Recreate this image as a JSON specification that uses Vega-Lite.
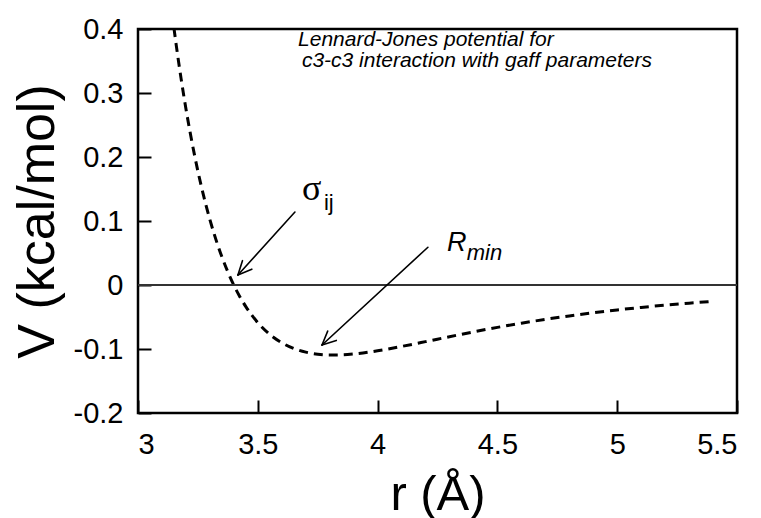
{
  "$schema": "https://vega.github.io/schema/vega-lite/v6.json",
  "width": 599,
  "height": 384,
  "autosize": "none",
  "padding": {"left": 138, "top": 29, "right": 24, "bottom": 105},
  "background": "white",
  "config": {
    "view": {"stroke": "black", "strokeWidth": 2.5},
    "font": "Liberation Sans",
    "axis": {
      "grid": false,
      "domain": false,
      "ticks": true,
      "tickColor": "black",
      "tickWidth": 2,
      "tickSize": -13,
      "labelFont": "Liberation Sans",
      "labelFontSize": 29,
      "labelColor": "black",
      "titleFont": "Liberation Sans",
      "titleFontWeight": "normal",
      "titleColor": "black"
    }
  },
  "layer": [
    {
      "data": {
        "values": [
          {"r": 3.15, "V": 0.4015},
          {"r": 3.16, "V": 0.3737},
          {"r": 3.17, "V": 0.3473},
          {"r": 3.18, "V": 0.3221},
          {"r": 3.2, "V": 0.2755},
          {"r": 3.22, "V": 0.2336},
          {"r": 3.25, "V": 0.1778},
          {"r": 3.275, "V": 0.1376},
          {"r": 3.3, "V": 0.1022},
          {"r": 3.325, "V": 0.0713},
          {"r": 3.35, "V": 0.0442},
          {"r": 3.375, "V": 0.0205},
          {"r": 3.4, "V": -0.0003},
          {"r": 3.425, "V": -0.0182},
          {"r": 3.45, "V": -0.0338},
          {"r": 3.5, "V": -0.0588},
          {"r": 3.55, "V": -0.0772},
          {"r": 3.6, "V": -0.0902},
          {"r": 3.65, "V": -0.0992},
          {"r": 3.7, "V": -0.1049},
          {"r": 3.75, "V": -0.1081},
          {"r": 3.8, "V": -0.1093},
          {"r": 3.85, "V": -0.1091},
          {"r": 3.9, "V": -0.1078},
          {"r": 4.0, "V": -0.1028},
          {"r": 4.1, "V": -0.096},
          {"r": 4.2, "V": -0.0885},
          {"r": 4.3, "V": -0.0808},
          {"r": 4.4, "V": -0.0733},
          {"r": 4.5, "V": -0.0662},
          {"r": 4.6, "V": -0.0597},
          {"r": 4.7, "V": -0.0537},
          {"r": 4.8, "V": -0.0483},
          {"r": 4.9, "V": -0.0434},
          {"r": 5.0, "V": -0.039},
          {"r": 5.1, "V": -0.035},
          {"r": 5.2, "V": -0.0315},
          {"r": 5.3, "V": -0.0284},
          {"r": 5.4, "V": -0.0256}
        ]
      },
      "mark": {"type": "line", "color": "black", "strokeWidth": 3, "strokeDash": [9, 6], "interpolate": "monotone", "clip": true},
      "encoding": {
        "x": {
          "field": "r", "type": "quantitative",
          "scale": {"domain": [3, 5.5], "nice": false, "zero": false},
          "axis": {
            "values": [3, 3.5, 4, 4.5, 5, 5.5],
            "format": ".1~f",
            "labelPadding": 30,
            "labelBaseline": "top",
            "title": "r (Å)",
            "titleFontSize": 49,
            "titleAnchor": "middle",
            "titleX": 299.5,
            "titleY": 96,
            "titleBaseline": "alphabetic",
            "titleAlign": "center"
          }
        },
        "y": {
          "field": "V", "type": "quantitative",
          "scale": {"domain": [-0.2, 0.4], "nice": false, "zero": false},
          "axis": {
            "values": [-0.2, -0.1, 0, 0.1, 0.2, 0.3, 0.4],
            "format": ".1~f",
            "labelExpr": "replace(datum.label, '\u2212', '-')",
            "labelPadding": 28,
            "title": "V (kcal/mol)",
            "titleFontSize": 52,
            "titleAngle": -90,
            "titleX": -85,
            "titleY": 192,
            "titleBaseline": "alphabetic",
            "titleAlign": "center"
          }
        }
      }
    },
    {
      "data": {"values": [{"V": 0}]},
      "mark": {"type": "rule", "color": "#333333", "strokeWidth": 1.8},
      "encoding": {
        "y": {"field": "V", "type": "quantitative"}
      }
    },
    {
      "data": {
        "values": [
          {"r": 3.655, "V": 0.114, "r2": 3.417, "V2": 0.0156},
          {"r": 3.417, "V": 0.0156, "r2": 3.475, "V2": 0.0247},
          {"r": 3.417, "V": 0.0156, "r2": 3.436, "V2": 0.038},
          {"r": 4.21, "V": 0.059, "r2": 3.768, "V2": -0.0938},
          {"r": 3.768, "V": -0.0938, "r2": 3.8276, "V2": -0.0866},
          {"r": 3.768, "V": -0.0938, "r2": 3.7917, "V2": -0.072}
        ]
      },
      "mark": {"type": "rule", "color": "black", "strokeWidth": 1.6, "strokeCap": "round"},
      "encoding": {
        "x": {"field": "r", "type": "quantitative"},
        "y": {"field": "V", "type": "quantitative"},
        "x2": {"field": "r2"},
        "y2": {"field": "V2"}
      }
    },
    {
      "data": {
        "values": [
          {"r": 3.668, "V": 0.3735, "label": "Lennard-Jones potential for"},
          {"r": 3.684, "V": 0.3406, "label": "c3-c3 interaction with gaff parameters"}
        ]
      },
      "mark": {"type": "text", "align": "left", "baseline": "alphabetic", "font": "Liberation Sans", "fontStyle": "italic", "fontSize": 21, "color": "black"},
      "encoding": {
        "x": {"field": "r", "type": "quantitative"},
        "y": {"field": "V", "type": "quantitative"},
        "text": {"field": "label"}
      }
    },
    {
      "data": {"values": [{"r": 3.684, "V": 0.133, "label": "σ"}]},
      "mark": {"type": "text", "align": "left", "baseline": "alphabetic", "font": "Liberation Serif", "fontSize": 36, "color": "black"},
      "encoding": {
        "x": {"field": "r", "type": "quantitative"},
        "y": {"field": "V", "type": "quantitative"},
        "text": {"field": "label"}
      }
    },
    {
      "data": {"values": [{"r": 3.776, "V": 0.117, "label": "ij"}]},
      "mark": {"type": "text", "align": "left", "baseline": "alphabetic", "font": "Liberation Sans", "fontSize": 22, "color": "black"},
      "encoding": {
        "x": {"field": "r", "type": "quantitative"},
        "y": {"field": "V", "type": "quantitative"},
        "text": {"field": "label"}
      }
    },
    {
      "data": {"values": [{"r": 4.29, "V": 0.053, "label": "R"}]},
      "mark": {"type": "text", "align": "left", "baseline": "alphabetic", "font": "Liberation Sans", "fontStyle": "italic", "fontSize": 27, "color": "black"},
      "encoding": {
        "x": {"field": "r", "type": "quantitative"},
        "y": {"field": "V", "type": "quantitative"},
        "text": {"field": "label"}
      }
    },
    {
      "data": {"values": [{"r": 4.372, "V": 0.039, "label": "min"}]},
      "mark": {"type": "text", "align": "left", "baseline": "alphabetic", "font": "Liberation Sans", "fontStyle": "italic", "fontSize": 22, "color": "black"},
      "encoding": {
        "x": {"field": "r", "type": "quantitative"},
        "y": {"field": "V", "type": "quantitative"},
        "text": {"field": "label"}
      }
    }
  ]
}
